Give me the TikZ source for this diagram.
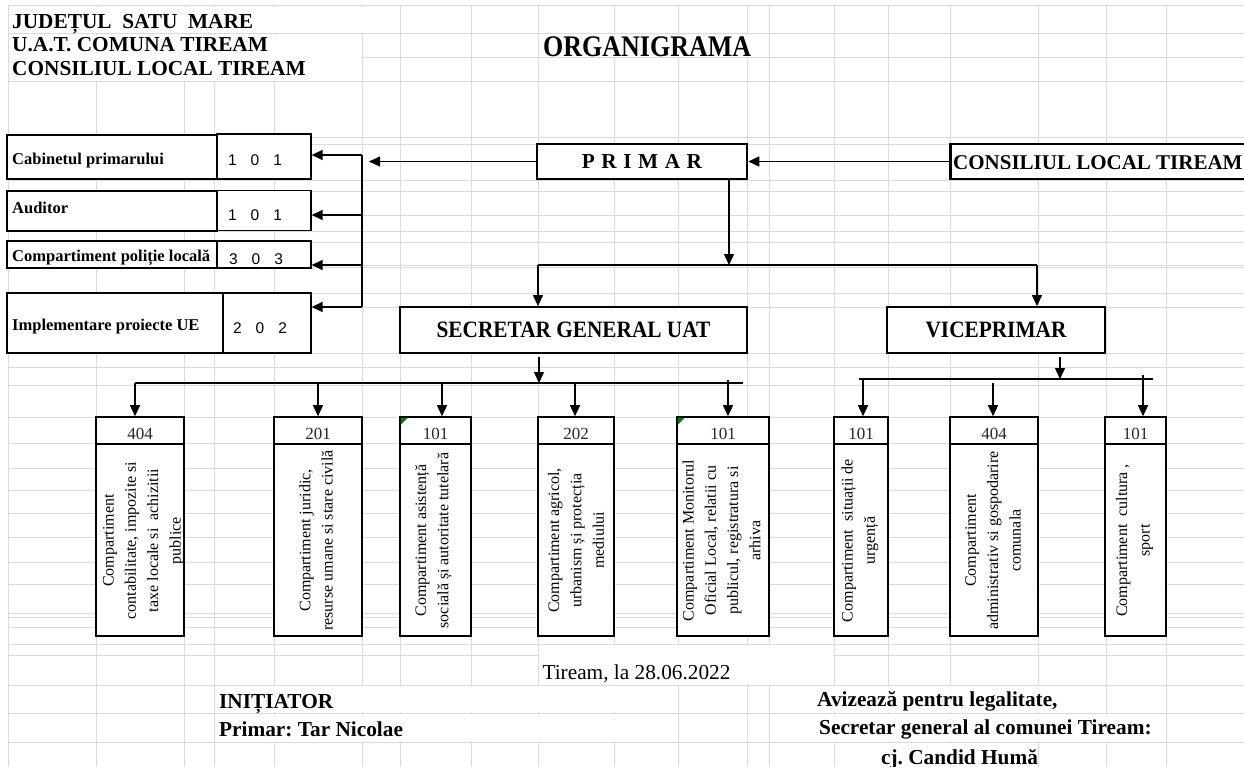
\documentclass[tikz,border=0pt]{standalone}
\usepackage{fontspec}
\setmainfont{Liberation Serif}
\newfontfamily\sansf{Liberation Sans}
\usetikzlibrary{arrows.meta}
\definecolor{gridc}{RGB}{218,218,218}
\definecolor{numc}{RGB}{40,40,40}
\definecolor{markc}{RGB}{0,128,0}
\frenchspacing
\tikzset{
  grid/.style={draw=gridc, line width=1bp},
  hdr/.style={inner sep=0pt, anchor=base west, font=\fontsize{21.3bp}{25bp}\selectfont\bfseries},
  titlet/.style={inner sep=0pt, anchor=base west, font=\fontsize{26bp}{30bp}\selectfont\bfseries},
  bigbox/.style={draw, line width=2.5bp, fill=white, inner sep=0pt, font=\fontsize{21.3bp}{25bp}\selectfont\bfseries},
  midbox/.style={draw, line width=1.8bp, fill=white, inner sep=0pt, font=\fontsize{21.3bp}{25bp}\selectfont\bfseries},
  lbox/.style={draw, line width=2bp, fill=white, inner sep=0pt},
  nbox/.style={draw, line width=1.3bp, fill=white, inner sep=0pt},
  cellbox/.style={draw, line width=1.6bp, fill=white, inner sep=0pt},
  ltxt/.style={inner sep=0pt, anchor=base west, font=\fontsize{16.5bp}{20bp}\selectfont\bfseries},
  dig/.style={inner sep=0pt, anchor=base, font=\sansf\fontsize{15.5bp}{18bp}\selectfont},
  numt/.style={inner sep=0pt, anchor=base, text=numc, font=\fontsize{17bp}{20bp}\selectfont},
  vtxt/.style={inner sep=0pt, rotate=90, align=center, font=\fontsize{16bp}{22.3bp}\selectfont},
  foot/.style={inner sep=0pt, anchor=base west, font=\fontsize{21.3bp}{25bp}\selectfont\bfseries},
  datet/.style={inner sep=0pt, anchor=base, font=\fontsize{21.3bp}{25bp}\selectfont},
  conn/.style={line width=1.4bp},
  arr/.style={line width=1.4bp, -{Triangle[length=11bp,width=10bp]}},
  hidecell/.style={fill=white}
}
\begin{document}
\begin{tikzpicture}[x=1bp,y=-1bp]
\useasboundingbox (0,0) rectangle (1244,767);
\clip (0,0) rectangle (1244,767);
\fill[white] (0,0) rectangle (1244,767);

% spreadsheet grid
\foreach \yy in {6,34,58,82,137,144,180,191,215,231,242,265,267,293,307,353,367,385,417,443,468,490,513,537,562,584,613,617,627,644,655,685,713,742}
  {\draw[grid] (8,\yy) -- (1244,\yy);}
\foreach \xx in {8,96,184,214,274,362,400,471,538,614,678,747,769,834,888,950,1038,1106,1166}
  {\draw[grid] (\xx,6) -- (\xx,767);}

% cells whose text hides the grid
\fill[hidecell] (8.6,6.6) rectangle (399.4,33.4);
\fill[hidecell] (8.6,34.6) rectangle (361.4,81.4);
\fill[hidecell] (538.6,34.6) rectangle (768.4,57.4);
\fill[hidecell] (538.6,644.6) rectangle (833.4,684.4);
\fill[hidecell] (214.6,685.6) rectangle (677.4,712.4);
\fill[hidecell] (214.6,713.6) rectangle (677.4,741.4);
\fill[hidecell] (769.6,685.6) rectangle (1105.4,712.4);
\fill[hidecell] (769.6,713.6) rectangle (1165.4,741.4);
\fill[hidecell] (834.6,742.6) rectangle (1037.4,767);

% header
\node[hdr] (h1) at (12,29) {JUDEȚUL\ \ SATU\ \ MARE};
\node[hdr] (h2) at (12,52) {U.A.T. COMUNA TIREAM};
\node[hdr] (h3) at (12,76) {CONSILIUL LOCAL TIREAM};
\node[titlet] (title) at (543,57) {\scalebox{1}[1.15]{ORGANIGRAMA}};

% top boxes
\node[bigbox, minimum width=210bp, minimum height=35bp] (prim) at (642,161.5)
  {P\hspace{6.5bp}R\hspace{6.5bp}I\hspace{6.5bp}M\hspace{6.5bp}A\hspace{6.5bp}R};
\node[bigbox, anchor=west, minimum width=310bp, minimum height=35bp] (cons) at (949,161.5) {};
\node[hdr, font=\fontsize{21bp}{25bp}\selectfont\bfseries] (const) at (953,169) {CONSILIUL LOCAL TIREAM};
\node[midbox, minimum width=347bp, minimum height=46bp] (sec) at (573.5,330) {\scalebox{1}[1.1]{SECRETAR GENERAL UAT}};
\node[midbox, minimum width=218bp, minimum height=46bp] (vice) at (996,330) {\scalebox{1}[1.1]{VICEPRIMAR}};

% left boxes
\node[lbox, minimum width=210bp, minimum height=44bp] (cab) at (112,157) {};
\node[nbox, minimum width=94bp, minimum height=45bp] (cabn) at (264,156.5) {};
\node[lbox, minimum width=210bp, minimum height=40bp] (aud) at (112,210.5) {};
\node[nbox, minimum width=94bp, minimum height=40bp] (audn) at (264,210.5) {};
\node[lbox, minimum width=210bp, minimum height=27bp] (pol) at (112,254.5) {};
\node[nbox, minimum width=94bp, minimum height=27bp] (poln) at (264,254.5) {};
\node[lbox, minimum width=216bp, minimum height=60bp] (imp) at (115,323) {};
\node[nbox, minimum width=88bp, minimum height=60bp] (impn) at (267,323) {};

\node[ltxt] (cabt) at (12,164) {Cabinetul primarului};
\node[ltxt] (audt) at (12,213) {Auditor};
\node[ltxt] (polt) at (12,261) {Compartiment poliție locală};
\node[ltxt] (impt) at (12,330) {Implementare proiecte UE};
\node[dig] (cabd) at (255,165) {1\hspace{14bp}0\hspace{14bp}1};
\node[dig] (audd) at (255,220.5) {1\hspace{14bp}0\hspace{14bp}1};
\node[dig] (pold) at (256,264) {3\hspace{14bp}0\hspace{14bp}3};
\node[dig] (impd) at (260,333) {2\hspace{14bp}0\hspace{14bp}2};

% bottom boxes: number cell + text cell
\node[cellbox, minimum width=88bp, minimum height=27bp] (nA) at (140,430.5) {};
\node[cellbox, minimum width=88bp, minimum height=192bp] (tA) at (140,540) {};
\node[cellbox, minimum width=88bp, minimum height=27bp] (nB) at (318,430.5) {};
\node[cellbox, minimum width=88bp, minimum height=192bp] (tB) at (318,540) {};
\node[cellbox, minimum width=71bp, minimum height=27bp] (nC) at (435.5,430.5) {};
\node[cellbox, minimum width=71bp, minimum height=192bp] (tC) at (435.5,540) {};
\node[cellbox, minimum width=76bp, minimum height=27bp] (nD) at (576,430.5) {};
\node[cellbox, minimum width=76bp, minimum height=192bp] (tD) at (576,540) {};
\node[cellbox, minimum width=92bp, minimum height=27bp] (nE) at (723,430.5) {};
\node[cellbox, minimum width=92bp, minimum height=192bp] (tE) at (723,540) {};
\node[cellbox, minimum width=54bp, minimum height=27bp] (nF) at (861,430.5) {};
\node[cellbox, minimum width=54bp, minimum height=192bp] (tF) at (861,540) {};
\node[cellbox, minimum width=88bp, minimum height=27bp] (nG) at (994,430.5) {};
\node[cellbox, minimum width=88bp, minimum height=192bp] (tG) at (994,540) {};
\node[cellbox, minimum width=61bp, minimum height=27bp] (nH) at (1135.5,430.5) {};
\node[cellbox, minimum width=61bp, minimum height=192bp] (tH) at (1135.5,540) {};

% comment markers
\fill[markc] (400.8,417.8) -- ++(7,0) -- ++(-7,7) -- cycle;
\fill[markc] (677.8,417.8) -- ++(7,0) -- ++(-7,7) -- cycle;

\node[numt] (nAt) at (140,439) {404};
\node[numt] (nBt) at (318,439) {201};
\node[numt] (nCt) at (435.5,439) {101};
\node[numt] (nDt) at (576,439) {202};
\node[numt] (nEt) at (723,439) {101};
\node[numt] (nFt) at (861,439) {101};
\node[numt] (nGt) at (994,439) {404};
\node[numt] (nHt) at (1135.5,439) {101};

\node[vtxt] (tAt) at (143.5,540.5) {Compartiment\\contabilitate, impozite si\\taxe locale si\ \ achizitii\\publice};
\node[vtxt] (tBt) at (316,540.5) {Compartiment juridic,\\resurse umane si stare civilă};
\node[vtxt] (tCt) at (433.5,540.5) {Compartiment asistență\\socială și autoritate tutelară};
\node[vtxt] (tDt) at (576,540.5) {Compartiment agricol,\\urbanism și protecția\\mediului};
\node[vtxt] (tEt) at (721.5,540.5) {Compartiment Monitorul\\Oficial Local, relatii cu\\publicul, registratura si\\arhiva};
\node[vtxt] (tFt) at (860,540.5) {Compartiment\ \ situații de\\urgență};
\node[vtxt] (tGt) at (993,540.5) {Compartiment\\administrativ si gospodarire\\comunala};
\node[vtxt] (tHt) at (1134.5,540.5) {Compartiment\ \ cultura ,\\sport};

% connectors: PRIMAR and left column
\coordinate (ltip) at (369,161.5);
\draw[arr] (prim.west) -- (ltip);
\draw[arr] (cons.west) -- (prim.east);
\coordinate (k1) at (362,155);
\coordinate (k2) at (362,215);
\coordinate (k3) at (362,265);
\coordinate (k4) at (362,307);
\draw[conn] (k1) -- (k4);
\draw[arr] (k1) -- (k1 -| cabn.east);
\draw[arr] (k2) -- (k2 -| audn.east);
\draw[arr] (k3) -- (k3 -| poln.east);
\draw[arr] (k4) -- (k4 -| impn.east);

% PRIMAR down to SECRETAR and VICEPRIMAR
\coordinate (pd) at (729,265);
\draw[arr] (prim.south -| pd) -- (pd);
\coordinate (m1) at (538,265);
\coordinate (m2) at (1037,265);
\draw[conn] (m1) -- (m2);
\draw[arr] (m1) -- (m1 |- sec.north);
\draw[arr] (m2) -- (m2 |- vice.north);

% SECRETAR down
\coordinate (s1) at (539,383);
\draw[arr] ([yshift=-3bp]sec.south -| s1) -- (s1);
\coordinate (sb1) at (135,383);
\coordinate (sb2) at (743,383);
\draw[conn] (sb1) -- (sb2);
\coordinate (q2) at (318,383);
\coordinate (q3) at (442,383);
\coordinate (q4) at (575,383);
\coordinate (q5) at (728,380);
\draw[arr] (sb1) -- (sb1 |- nA.north);
\draw[arr] (q2) -- (q2 |- nB.north);
\draw[arr] (q3) -- (q3 |- nC.north);
\draw[arr] (q4) -- (q4 |- nD.north);
\draw[arr] (q5) -- (q5 |- nE.north);

% VICEPRIMAR down
\coordinate (v1) at (1060,379);
\draw[arr] ([yshift=-3bp]vice.south -| v1) -- (v1);
\coordinate (vb1) at (859,379);
\coordinate (vb2) at (1153,379);
\draw[conn] (vb1) -- (vb2);
\coordinate (r1) at (863,379);
\coordinate (r2) at (993,383);
\coordinate (r3) at (1143,375);
\draw[arr] (r1) -- (r1 |- nF.north);
\draw[arr] (r2) -- (r2 |- nG.north);
\draw[arr] (r3) -- (r3 |- nH.north);

% footer
\node[datet] (date) at (636.5,679) {Tiream, la 28.06.2022};
\node[foot] (init) at (219,708) {INIȚIATOR};
\node[foot] (prm) at (219,736.5) {Primar: Tar Nicolae};
\node[foot] (aviz) at (817,706) {Avizează pentru legalitate,};
\node[foot] (secg) at (819,734) {Secretar general al comunei Tiream:};
\node[foot, anchor=base] (cand) at (959.5,764) {cj. Candid Humă};
\end{tikzpicture}
\end{document}
